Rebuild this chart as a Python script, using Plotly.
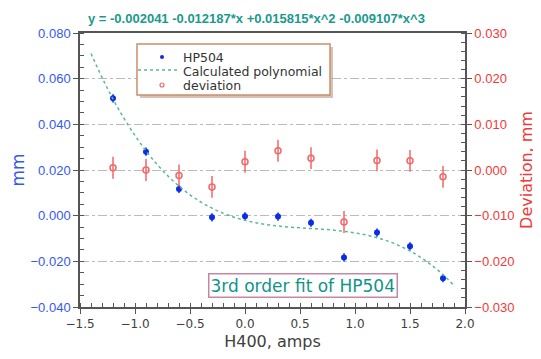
import plotly.graph_objects as go

# ---- data ----
x_meas = [-1.2, -0.9, -0.6, -0.3, 0.0, 0.3, 0.6, 0.9, 1.2, 1.5, 1.8]
hp504 = [0.0514, 0.0280, 0.0117, -0.0007, -0.0003, -0.0004, -0.0031, -0.0183, -0.0074, -0.0134, -0.0274]
hp504_err = [0.0018] * 11
deviation = [0.0005, 0.0000, -0.0012, -0.0037, 0.0018, 0.0042, 0.0026, -0.0114, 0.0021, 0.0020, -0.0015]
deviation_err = [0.0024] * 11

poly_x = [-1.4, -1.3, -1.2, -1.1, -1.0, -0.9, -0.8, -0.7, -0.6, -0.5, -0.4, -0.3, -0.2, -0.1,
          0.0, 0.1, 0.2, 0.3, 0.4, 0.5, 0.6, 0.7, 0.8, 0.9, 1.0, 1.1, 1.2, 1.3, 1.4, 1.5,
          1.6, 1.7, 1.8, 1.9]
poly_y = [0.07101, 0.06054, 0.05109, 0.04262, 0.03507, 0.02838, 0.02249, 0.01736, 0.01293,
          0.00914, 0.00595, 0.00328, 0.00110, -0.00066, -0.00204, -0.00311, -0.00392,
          -0.00452, -0.00497, -0.00532, -0.00563, -0.00595, -0.00633, -0.00684, -0.00752,
          -0.00843, -0.00963, -0.01116, -0.01310, -0.01547, -0.01836, -0.02180, -0.02585,
          -0.03057]

series_names = ["HP504", "Calculated polynomial", "deviation"]
title_text = "y = -0.002041 -0.012187*x +0.015815*x^2 -0.009107*x^3"
box_text = "3rd order fit of HP504"

BLUE = "#0a2ee6"
BLUE_T = "#3358f5"
RED = "#f06868"
RED_T = "#f03838"
TEAL = "#1a9a8c"
GREEN = "#5cb894"
FONT = "Liberation Sans, Arial, sans-serif"
DV = "DejaVu Sans, sans-serif"

# page body has an 8px default margin -> figure is sized so the plot area lands
# at x 80..465, y 33..307 of the window
W, H = 533, 351
ML, MR, MT, MB = 72, 76, 25, 52
PX0, PY0 = 80, 33
PW, PH = W - ML - MR, H - MT - MB


def px(x):
    return (x - PX0) / PW


def py(y):
    return (PY0 + PH - y) / PH


fig = go.Figure()
fig.add_trace(go.Scatter(
    x=x_meas, y=hp504, mode="markers", name=series_names[0],
    marker=dict(symbol="circle", size=6, color=BLUE),
    error_y=dict(type="data", array=hp504_err, color=BLUE, thickness=1.5, width=0),
))
fig.add_trace(go.Scatter(
    x=poly_x, y=poly_y, mode="lines", name=series_names[1],
    line=dict(color=GREEN, width=1.5, dash="dot", shape="spline"),
))
fig.add_trace(go.Scatter(
    x=x_meas, y=deviation, mode="markers", name=series_names[2], yaxis="y2",
    marker=dict(symbol="circle-open", size=6, color=RED, line=dict(width=1.5, color=RED)),
    error_y=dict(type="data", array=deviation_err, color=RED, thickness=1.5, width=0),
))

# ---- compact legend box (drawn) ----
row_y = [57, 71, 85]
shapes = [
    dict(type="rect", xref="paper", yref="paper", x0=px(140), x1=px(333), y0=py(98), y1=py(47),
         line=dict(width=0), fillcolor="rgba(170,120,90,0.45)", layer="above"),
    dict(type="rect", xref="paper", yref="paper", x0=px(137), x1=px(330), y0=py(95), y1=py(44),
         line=dict(width=1.5, color="#c8906c"), fillcolor="white", layer="above"),
    dict(type="circle", xref="paper", yref="paper", x0=px(160), x1=px(164),
         y0=py(row_y[0] + 2), y1=py(row_y[0] - 2),
         line=dict(width=0), fillcolor=BLUE, layer="above"),
    dict(type="line", xref="paper", yref="paper", x0=px(138), x1=px(180),
         y0=py(row_y[1] - 1), y1=py(row_y[1] - 1),
         line=dict(width=1.3, color=GREEN, dash="dot"), layer="above"),
    dict(type="circle", xref="paper", yref="paper", x0=px(160), x1=px(164),
         y0=py(row_y[2] + 2), y1=py(row_y[2] - 2),
         line=dict(width=1.2, color=RED), fillcolor="white", layer="above"),
]
legend_anns = [
    dict(text=series_names[i], xref="paper", yref="paper", x=px(182), y=py(yy),
         xanchor="left", yanchor="middle", showarrow=False, borderpad=0,
         font=dict(family=DV, size=12.5, color="#333333"))
    for i, yy in enumerate(row_y)
]

fig.update_layout(
    width=W, height=H,
    margin=dict(l=ML, r=MR, t=MT, b=MB),
    paper_bgcolor="white", plot_bgcolor="white",
    font=dict(family=FONT, size=13, color="#404040"),
    showlegend=False,
    xaxis=dict(
        range=[-1.5, 2.0], dtick=0.5, tickformat=".1f", automargin=False,
        showgrid=False, zeroline=False,
        showline=True, linecolor="#555555", linewidth=1.5, mirror=True,
        ticks="outside", ticklen=5, tickcolor="#555555",
        minor=dict(dtick=0.1, ticks="inside", ticklen=4, tickcolor="#555555"),
        tickfont=dict(family=DV, size=12, color="#404040"),
        title=dict(text="H400, amps", font=dict(family=DV, size=16, color="#404040"), standoff=6),
    ),
    yaxis=dict(
        range=[-0.04, 0.08], dtick=0.02, tickformat=".3f", automargin=False,
        showgrid=True, gridcolor="#bbbbbb", griddash="dashdot", gridwidth=1,
        zeroline=False,
        showline=True, linecolor="#555555", linewidth=1.5,
        ticks="outside", ticklen=5, tickcolor="#555555",
        minor=dict(dtick=0.005, ticks="inside", ticklen=4, tickcolor="#555555"),
        tickfont=dict(size=13, color=BLUE_T),
        title=dict(text="mm", font=dict(family=DV, size=17, color=BLUE_T), standoff=6),
    ),
    yaxis2=dict(
        range=[-0.03, 0.03], dtick=0.01, tickformat=".3f", automargin=False,
        overlaying="y", side="right",
        showgrid=False, zeroline=False,
        showline=True, linecolor="#555555", linewidth=1.5,
        ticks="outside", ticklen=5, tickcolor="#555555",
        minor=dict(dtick=0.002, ticks="inside", ticklen=4, tickcolor="#555555"),
        tickfont=dict(size=13, color=RED_T),
        title=dict(text="Deviation, mm", font=dict(family=DV, size=16, color=RED_T), standoff=7),
    ),
    shapes=shapes,
    annotations=[
        dict(text="<b>" + title_text + "</b>", xref="paper", yref="paper",
             x=px(256), y=py(18), xanchor="center", yanchor="middle", showarrow=False,
             font=dict(family=FONT, size=13, color=TEAL)),
        dict(text=box_text, xref="paper", yref="paper",
             x=px(303), y=py(285), xanchor="center", yanchor="middle", showarrow=False,
             font=dict(family=DV, size=17, color="#10948a"),
             bgcolor="white", bordercolor="#c488a4", borderwidth=1.5, borderpad=1),
    ] + legend_anns,
)

fig.write_html("out.html")
